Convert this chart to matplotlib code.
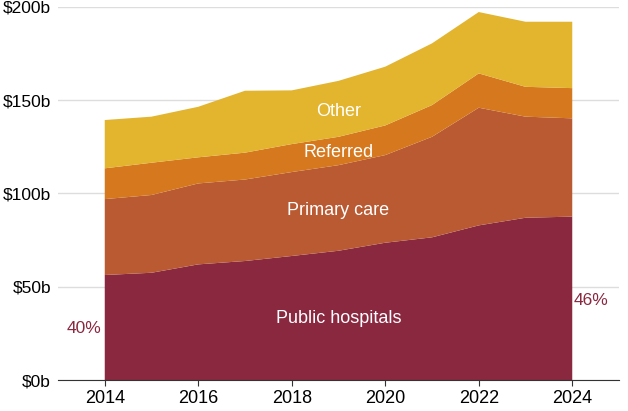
import matplotlib

matplotlib.use("Agg")
import matplotlib.pyplot as plt
import numpy as np

plt.rcParams["font.family"] = ["Liberation Sans", "DejaVu Sans"]

# Spending by area, $ billions.
years = [2014, 2015, 2016, 2017, 2018, 2019, 2020, 2021, 2022, 2023, 2024]
public_hospitals = [56.3, 57.5, 62.0, 63.8, 66.5, 69.3, 73.6, 76.5, 82.9, 87.0, 87.6]
primary_care = [40.7, 41.7, 43.4, 43.7, 45.0, 45.9, 47.0, 53.9, 63.1, 54.2, 52.7]
referred = [16.5, 17.3, 14.0, 14.4, 15.0, 15.2, 15.9, 17.0, 18.4, 16.0, 16.2]
other = [25.9, 24.7, 27.1, 33.2, 28.8, 30.0, 31.5, 33.1, 32.9, 34.9, 35.6]
series_names = ["Public hospitals", "Primary care", "Referred", "Other"]
colors = ["#8a2840", "#b95a33", "#d5781e", "#e3b42e"]
label_pos = [33, 91, 122, 144]
label_year = 2019
yticks = [0, 50, 100, 150, 200]
xticks = [2014, 2016, 2018, 2020, 2022, 2024]

fig = plt.figure(figsize=(6.28, 4.11), dpi=100)
ax = fig.add_axes([58 / 628, 31 / 411, 561 / 628, 373 / 411])

ax.stackplot(years, public_hospitals, primary_care, referred, other,
             colors=colors, linewidth=0, zorder=2)

for name, y in zip(series_names, label_pos):
    ax.text(label_year, y, name, color="white", fontsize=13, ha="center", va="center", zorder=3)

total = np.sum([public_hospitals, primary_care, referred, other], axis=0)
share_first = public_hospitals[0] / total[0] * 100
share_last = public_hospitals[-1] / total[-1] * 100
ax.text(years[0] - 0.08, 27.5, f"{share_first:.0f}%", color=colors[0], fontsize=12.5,
        ha="right", va="center")
ax.text(years[-1] + 0.03, 42.5, f"{share_last:.0f}%", color=colors[0], fontsize=12.5,
        ha="left", va="center")

ax.set_xlim(2013, 2025)
ax.set_ylim(0, 200)
ax.set_yticks(yticks, [f"${v}b" for v in yticks])
ax.set_xticks(xticks, [str(x) for x in xticks])
ax.grid(axis="y", color="#dddddd", linewidth=1, zorder=0)
ax.set_axisbelow(True)
for side in ["top", "right", "left"]:
    ax.spines[side].set_visible(False)
ax.spines["bottom"].set_color("#333333")
ax.spines["bottom"].set_zorder(4)
ax.tick_params(axis="y", length=0, labelsize=12.5, pad=5)
ax.tick_params(axis="x", length=4, color="#333333", labelsize=13, pad=3)

fig.savefig("out.png", dpi=100, facecolor="white")
